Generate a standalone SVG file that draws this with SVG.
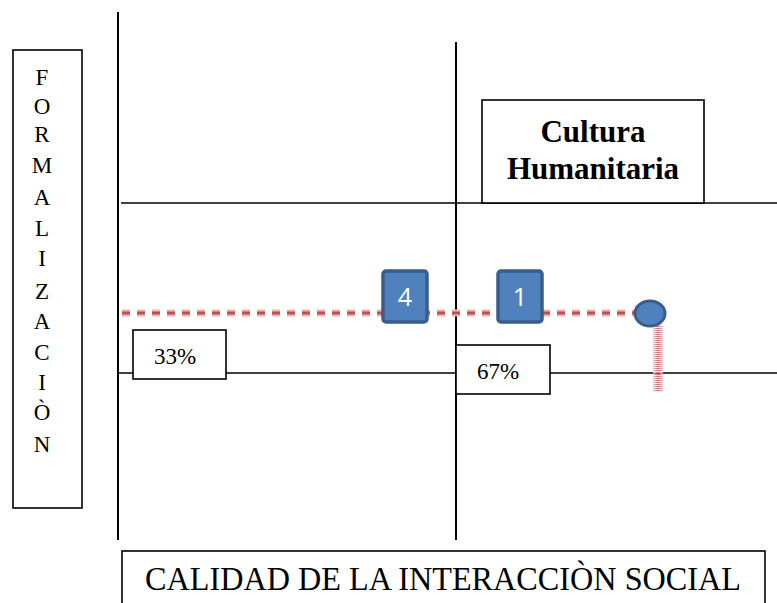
<svg xmlns="http://www.w3.org/2000/svg" width="777" height="603" viewBox="0 0 777 603">
<defs>
<pattern id="stripes" x="0" y="0" width="10" height="2" patternUnits="userSpaceOnUse">
  <rect x="0" y="0" width="10" height="1.2" fill="#d46a67"/>
</pattern>
<linearGradient id="vfade" x1="0" y1="0" x2="1" y2="0">
  <stop offset="0" stop-color="#fff" stop-opacity="0.6"/>
  <stop offset="0.5" stop-color="#fff" stop-opacity="0"/>
  <stop offset="1" stop-color="#fff" stop-opacity="0.6"/>
</linearGradient>
</defs>
<style>
.serif{font-family:"Liberation Serif","Times New Roman",serif;fill:#000}
.box{fill:#fff;stroke:#000;stroke-width:1.6}
.axis{stroke:#000;stroke-width:2;fill:none}
.grid{stroke:#000;stroke-width:1.5;fill:none}
.sq{fill:#4f81bd;stroke:#385d8a;stroke-width:3.5}
.sqt{font-family:"Open Sans","Liberation Sans",sans-serif;font-size:25px;fill:#fff;text-anchor:middle}
</style>
<rect width="777" height="603" fill="#fff"/>
<g id="connectors">
  <line class="axis" x1="118" y1="12" x2="118" y2="540"/>
  <line class="axis" x1="456" y1="42" x2="456" y2="540"/>
  <line class="grid" x1="121" y1="203" x2="777" y2="203"/>
  <line class="grid" x1="118" y1="373" x2="777" y2="373"/>
  <line x1="122" y1="313" x2="636" y2="313" stroke="#e6b9b8" stroke-width="7" stroke-dasharray="8 7"/>
  <line x1="122" y1="313" x2="636" y2="313" stroke="#c0504d" stroke-width="3" stroke-dasharray="8 7"/>
  <rect x="653" y="325" width="10" height="67" fill="url(#stripes)"/>
  <rect x="653" y="325" width="10" height="67" fill="url(#vfade)"/>
</g>
<g id="formalizacion">
  <rect class="box" x="13" y="50" width="69" height="458"/>
  <g class="serif" font-size="23" text-anchor="middle">
    <text x="42" y="85">F</text>
    <text x="42" y="114">O</text>
    <text x="42" y="142">R</text>
    <text x="42" y="173">M</text>
    <text x="42" y="205">A</text>
    <text x="42" y="236">L</text>
    <text x="42" y="266">I</text>
    <text x="42" y="299">Z</text>
    <text x="42" y="329">A</text>
    <text x="42" y="360">C</text>
    <text x="42" y="390">I</text>
    <text x="42" y="420">Ò</text>
    <text x="42" y="452">N</text>
  </g>
</g>
<g id="cultura">
  <rect class="box" x="482" y="100" width="222" height="103"/>
  <text class="serif" x="593" y="142" font-size="31" font-weight="bold" text-anchor="middle">Cultura</text>
  <text class="serif" x="593" y="179" font-size="31" font-weight="bold" text-anchor="middle">Humanitaria</text>
</g>
<g id="p33">
  <rect class="box" x="133" y="330" width="93" height="49"/>
  <text class="serif" x="175" y="364" font-size="23" text-anchor="middle">33%</text>
</g>
<g id="p67">
  <rect class="box" x="456" y="345" width="94" height="49"/>
  <text class="serif" x="498" y="379" font-size="23" text-anchor="middle">67%</text>
</g>
<g id="sq4">
  <rect class="sq" x="383" y="271" width="44" height="51" rx="3"/>
  <text class="sqt" x="405" y="306">4</text>
</g>
<g id="sq1">
  <rect class="sq" x="498" y="271" width="44" height="51" rx="3"/>
  <text class="sqt" x="520" y="306">1</text>
</g>
<g id="circle">
  <ellipse cx="650" cy="313.5" rx="15" ry="12.5" fill="#4f81bd" stroke="#385d8a" stroke-width="3"/>
</g>
<g id="calidad">
  <rect class="box" x="122" y="551" width="643" height="60"/>
  <text class="serif" x="145" y="590" font-size="34" textLength="596" lengthAdjust="spacingAndGlyphs">CALIDAD DE LA INTERACCIÒN SOCIAL</text>
</g>
</svg>
